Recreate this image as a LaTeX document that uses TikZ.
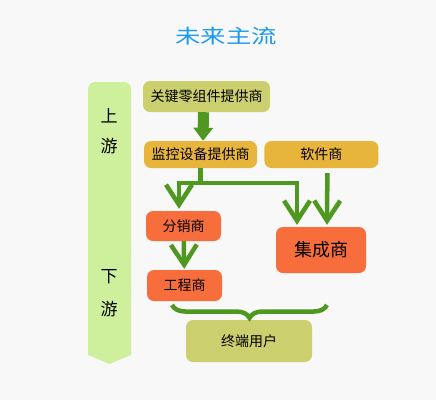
\documentclass[tikz,border=0pt]{standalone}
\usepackage{fontspec}
\setmainfont{Noto Sans CJK SC}
\usetikzlibrary{arrows.meta, positioning, decorations.pathreplacing}
\definecolor{bgcol}{HTML}{F8F8F8}
\definecolor{titleblue}{HTML}{1A9BF0}
\definecolor{barcol}{HTML}{CEEF9C}
\definecolor{olivebox}{HTML}{CCCF6E}
\definecolor{goldbox}{HTML}{E8B53C}
\definecolor{hotbox}{HTML}{F76E3C}
\definecolor{flowgreen}{HTML}{4E9820}

\begin{document}
\begin{tikzpicture}[x=1pt, y=-1pt,
  box/.style = {rounded corners=7pt, inner sep=0pt, text=black, font=\fontsize{14}{16}\selectfont},
  olive/.style = {box, fill=olivebox},
  gold/.style = {box, fill=goldbox},
  hot/.style = {box, fill=hotbox},
  side/.style = {text=black, font=\fontsize{17}{19}\selectfont},
  flow/.style = {draw=flowgreen, line width=4.5pt, -{Straight Barb[length=20pt, width=26pt]}},
  block/.style = {draw=flowgreen, line width=11pt, -{Triangle[length=13pt, width=19pt]}},
  curly/.style = {draw=flowgreen, line width=4.5pt, decorate, decoration={brace, amplitude=13pt}}]
		\useasboundingbox (0,0) rectangle (436,400);
		\fill[bgcol] (0,0) rectangle (436,400);
		% up / down bar
		\fill[barcol, rounded corners=7pt] (88,82) rectangle (131,300);
		\fill[barcol] (88,250) -- (131,250) -- (131,355) -- (109.5,364) -- (88,355) -- cycle;
		\node[side] (up1) at (109,116) {上};
		\node[side] (up2) at (109,146) {游};
		\node[side] (down1) at (109,277) {下};
		\node[side] (down2) at (109,309) {游};
		\node[text=titleblue, font=\fontsize{19.5}{22}\selectfont] (title) at (226,36) {\scalebox{1.3}[1]{未来主流}};
		% chain
		\node[olive, minimum width=127pt, minimum height=31pt] (supplier) at (206.5,96.5) {关键零组件提供商};
		\node[gold, minimum width=113pt, minimum height=27pt] (monitor) at (200.5,154.5) {监控设备提供商};
		\node[gold, minimum width=114pt, minimum height=27pt, right=7pt of monitor] (software) {软件商};
		\node[hot, minimum width=75pt, minimum height=30pt] (distrib) at (183.5,226) {分销商};
		\node[hot, minimum width=75pt, minimum height=31pt] (engineer) at (184.5,285.5) {工程商};
		\node[hot, minimum width=90pt, minimum height=46pt, font=\fontsize{18}{20}\selectfont] (integr) at (321,250) {集成商};
		\node[olive, minimum width=126pt, minimum height=42pt] (enduser) at (249,341) {终端用户};
		\coordinate (braceR) at (327,305);
		\coordinate (braceL) at (172,305);
		\draw[block] ([xshift=-3pt]supplier.south) -- ([xshift=2.5pt]monitor.north);
		\draw[flow, shorten >=2pt] (monitor.south) -- ++(0,15) coordinate (split) -| ([xshift=-4.5pt]distrib.north);
		\draw[flow, shorten >=2pt] (split) -| ([xshift=-24pt]integr.north);
		\draw[flow, shorten <=5pt, shorten >=2pt] ([xshift=6pt]software.south) -- ([xshift=6pt]integr.north);
		\draw[flow, shorten >=1pt] (distrib) -- (engineer);
		\draw[curly] (braceR) -- (braceL);
	\end{tikzpicture}
\end{document}
